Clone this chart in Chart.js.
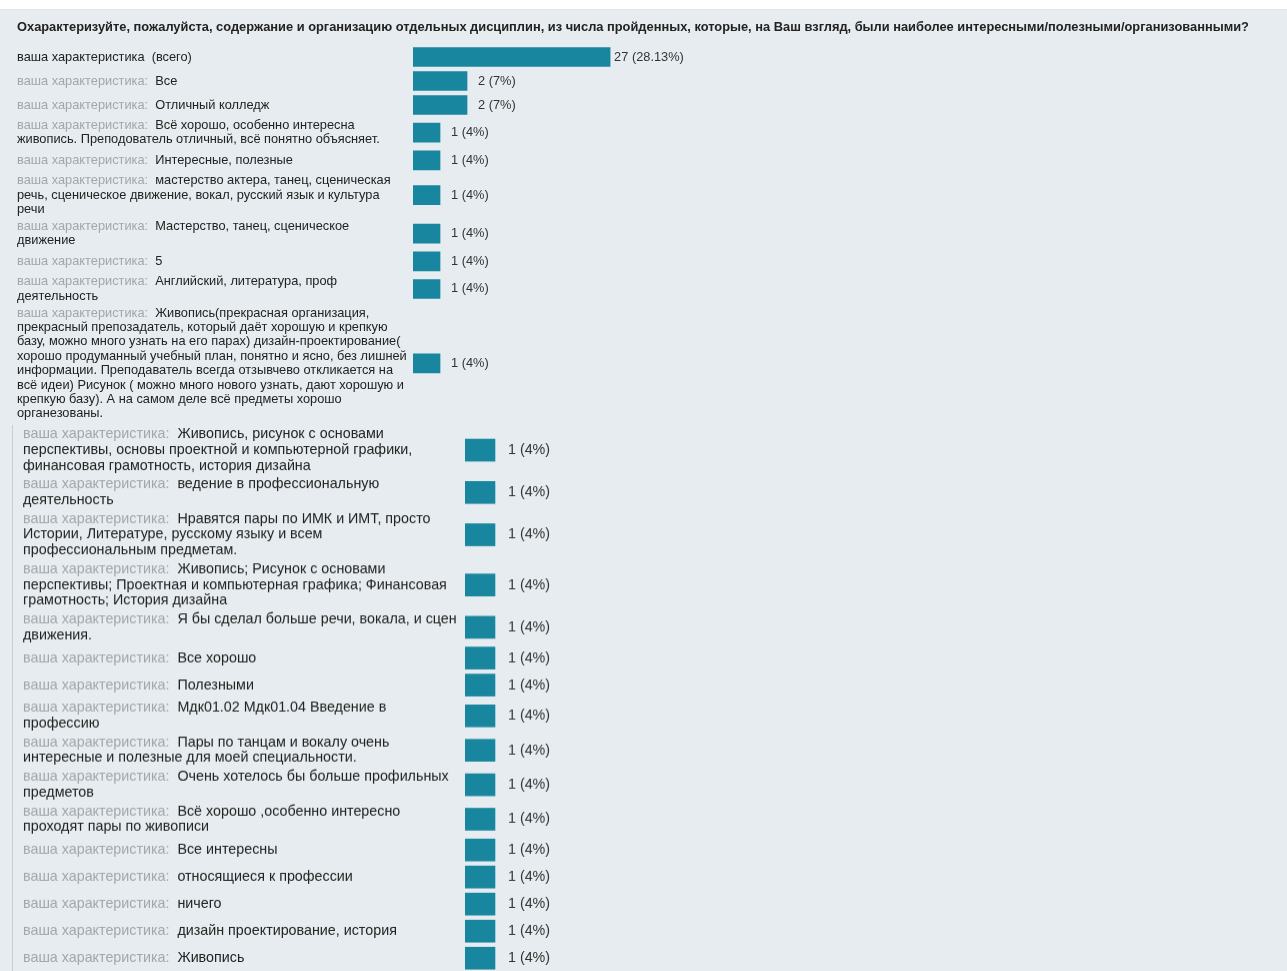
<!DOCTYPE html>
<html>
<head>
<meta charset="utf-8">
<script src="https://cdn.jsdelivr.net/npm/chart.js@4.4.1/dist/chart.umd.min.js"></script>
<style>
  body { margin: 0; background: #e6ecef; width: 1287px; height: 971px; overflow: hidden; position: relative; }
  #strip { position: absolute; left: 0; top: 0; width: 1287px; height: 9px; background: #fff; border-bottom: 1px solid #dfe5e8; }
  #topWrap { position: absolute; left: 0; top: 0; width: 1287px; }
  #botWrap { position: absolute; left: 0; top: 425px; width: 1287px; }
  #botLine { position: absolute; left: 12px; top: 425px; width: 1px; height: 546px; background: #c8cfd3; }
</style>
</head>
<body>
<div id="strip"></div>
<div id="topWrap"><canvas id="topChart"></canvas></div>
<div id="botLine"></div>
<div id="botWrap"><canvas id="botChart"></canvas></div>
<script>
const question = 'Охарактеризуйте, пожалуйста, содержание и организацию отдельных дисциплин, из числа пройденных, которые, на Ваш взгляд, были наиболее интересными/полезными/организованными?';
const prefix = 'ваша характеристика:';
const totalLabel = 'ваша характеристика  (всего)';

// first block of answers (first entry is the total row)
const topLabels = [
  [totalLabel],
  ['Все'],
  ['Отличный колледж'],
  ['Всё хорошо, особенно интересна', 'живопись. Преподователь отличный, всё понятно объясняет.'],
  ['Интересные, полезные'],
  ['мастерство актера, танец, сценическая', 'речь, сценическое движение, вокал, русский язык и культура', 'речи'],
  ['Мастерство, танец, сценическое', 'движение'],
  ['5'],
  ['Английский, литература, проф', 'деятельность'],
  ['Живопись(прекрасная организация,', 'прекрасный препозадатель, который даёт хорошую и крепкую',
   'базу, можно много узнать на его парах) дизайн-проектирование(', 'хорошо продуманный учебный план, понятно и ясно, без лишней',
   'информации. Преподаватель всегда отзывчево откликается на', 'всё идеи) Рисунок ( можно много нового узнать, дают хорошую и',
   'крепкую базу). А на самом деле всё предметы хорошо', 'органезованы.']
];
const topCounts = [27, 2, 2, 1, 1, 1, 1, 1, 1, 1];
const topPctText = ['28.13', '7', '7', '4', '4', '4', '4', '4', '4', '4'];
const topBarPct = [27.0, 7.4, 7.4, 3.7, 3.7, 3.7, 3.7, 3.7, 3.7, 3.7];

// second block (continued list, larger zoom)
const botLabels = [
  ['Живопись, рисунок с основами', 'перспективы, основы проектной и компьютерной графики,', 'финансовая грамотность, история дизайна'],
  ['ведение в профессиональную', 'деятельность'],
  ['Нравятся пары по ИМК и ИМТ, просто', 'Истории, Литературе, русскому языку и всем', 'профессиональным предметам.'],
  ['Живопись; Рисунок с основами', 'перспективы; Проектная и компьютерная графика; Финансовая', 'грамотность; История дизайна'],
  ['Я бы сделал больше речи, вокала, и сцен', 'движения.'],
  ['Все хорошо'],
  ['Полезными'],
  ['Мдк01.02 Мдк01.04 Введение в', 'профессию'],
  ['Пары по танцам и вокалу очень', 'интересные и полезные для моей специальности.'],
  ['Очень хотелось бы больше профильных', 'предметов'],
  ['Всё хорошо ,особенно интересно', 'проходят пары по живописи'],
  ['Все интересны'],
  ['относящиеся к профессии'],
  ['ничего'],
  ['дизайн проектирование, история'],
  ['Живопись']
];
const botCounts = [1, 1, 1, 1, 1, 1, 1, 1, 1, 1, 1, 1, 1, 1, 1, 1];
const botPctText = ['4', '4', '4', '4', '4', '4', '4', '4', '4', '4', '4', '4', '4', '4', '4', '4'];
const botBarPct = [3.7, 3.7, 3.7, 3.7, 3.7, 3.7, 3.7, 3.7, 3.7, 3.7, 3.7, 3.7, 3.7, 3.7, 3.7, 3.7];

const FONT = '"Liberation Sans", Arial, sans-serif';
const PAGE_W = 1287;

// row centres follow the number of text lines in each label
function rowLayout(labels, lineH, minH, pad) {
  let acc = 0;
  const centers = labels.map(l => {
    const h = Math.max(minH, l.length * lineH + pad);
    const c = acc + h / 2;
    acc += h;
    return c;
  });
  return { centers, total: acc };
}

// draws the row labels left of the bars and the "n (p%)" text after each bar
const rowText = {
  id: 'rowText',
  afterDatasetsDraw(chart, args, opts) {
    const ctx = chart.ctx;
    const y = chart.scales.y;
    const meta = chart.getDatasetMeta(0);
    ctx.save();
    ctx.textBaseline = 'middle';
    ctx.font = opts.size + 'px ' + FONT;
    opts.labels.forEach((lines, i) => {
      const cy = y.getPixelForValue(opts.centers[i]);
      const top = cy - (lines.length - 1) * opts.lineH / 2;
      lines.forEach((t, j) => {
        let x = y.left;
        const ly = top + j * opts.lineH;
        if (j === 0 && t !== totalLabel) {
          ctx.fillStyle = '#a3a7a9';
          ctx.fillText(prefix, x, ly);
          x += ctx.measureText(prefix + '  ').width;
        }
        ctx.fillStyle = '#222';
        ctx.fillText(t, x, ly);
      });
      const bar = meta.data[i];
      const gap = (opts.labels[i][0] === totalLabel) ? 4 : opts.valueGap;
      ctx.fillStyle = '#333';
      ctx.fillText(opts.counts[i] + ' (' + opts.pct[i] + '%)', bar.x + gap, cy);
    });
    ctx.restore();
  }
};

function makeChart(id, wrap, cfg) {
  const lay = rowLayout(cfg.labels, cfg.lineH, cfg.minH, cfg.rowPad);
  document.getElementById(wrap).style.height = (cfg.top + lay.total) + 'px';
  const xMax = (PAGE_W - cfg.left - cfg.axisW) / cfg.pxPerPct;
  return new Chart(document.getElementById(id), {
    type: 'bar',
    data: {
      datasets: [{
        data: cfg.bars.map((v, i) => ({ x: v, y: lay.centers[i] })),
        backgroundColor: '#17869e',
        barThickness: cfg.barH,
        borderWidth: 0
      }]
    },
    options: {
      indexAxis: 'y',
      responsive: true,
      maintainAspectRatio: false,
      animation: false,
      layout: { padding: { left: cfg.left, right: 0, top: cfg.padTop, bottom: 0 } },
      scales: {
        x: { display: false, min: 0, max: xMax },
        y: {
          type: 'linear', reverse: true, min: 0, max: lay.total, offset: false,
          ticks: { display: false }, grid: { display: false }, border: { display: false },
          afterFit: (axis) => { axis.width = cfg.axisW; }
        }
      },
      plugins: {
        legend: { display: false },
        tooltip: { enabled: false },
        title: cfg.title ? {
          display: true, text: cfg.title, align: 'start', color: '#222',
          font: { family: FONT, size: 12.85, weight: 'bold' },
          padding: { top: 9.3, bottom: 10.3 }
        } : { display: false },
        rowText: {
          labels: cfg.labels, centers: lay.centers, lineH: cfg.lineH, size: cfg.size,
          counts: cfg.counts, pct: cfg.pct, valueGap: cfg.valueGap
        }
      }
    },
    plugins: [rowText]
  });
}

makeChart('topChart', 'topWrap', {
  labels: topLabels, bars: topBarPct, counts: topCounts, pct: topPctText,
  lineH: 14.4, minH: 24, rowPad: 2.5, size: 12.8, barH: 19, valueGap: 11, pxPerPct: 7.3,
  top: 45, padTop: 10, left: 17, axisW: 396, title: question
});

makeChart('botChart', 'botWrap', {
  labels: botLabels, bars: botBarPct, counts: botCounts, pct: botPctText,
  lineH: 15.7, minH: 27, rowPad: 3, size: 14.3, barH: 22, valueGap: 13, pxPerPct: 8.1,
  top: 0, padTop: 0, left: 23, axisW: 442, title: null
});
</script>
</body>
</html>
